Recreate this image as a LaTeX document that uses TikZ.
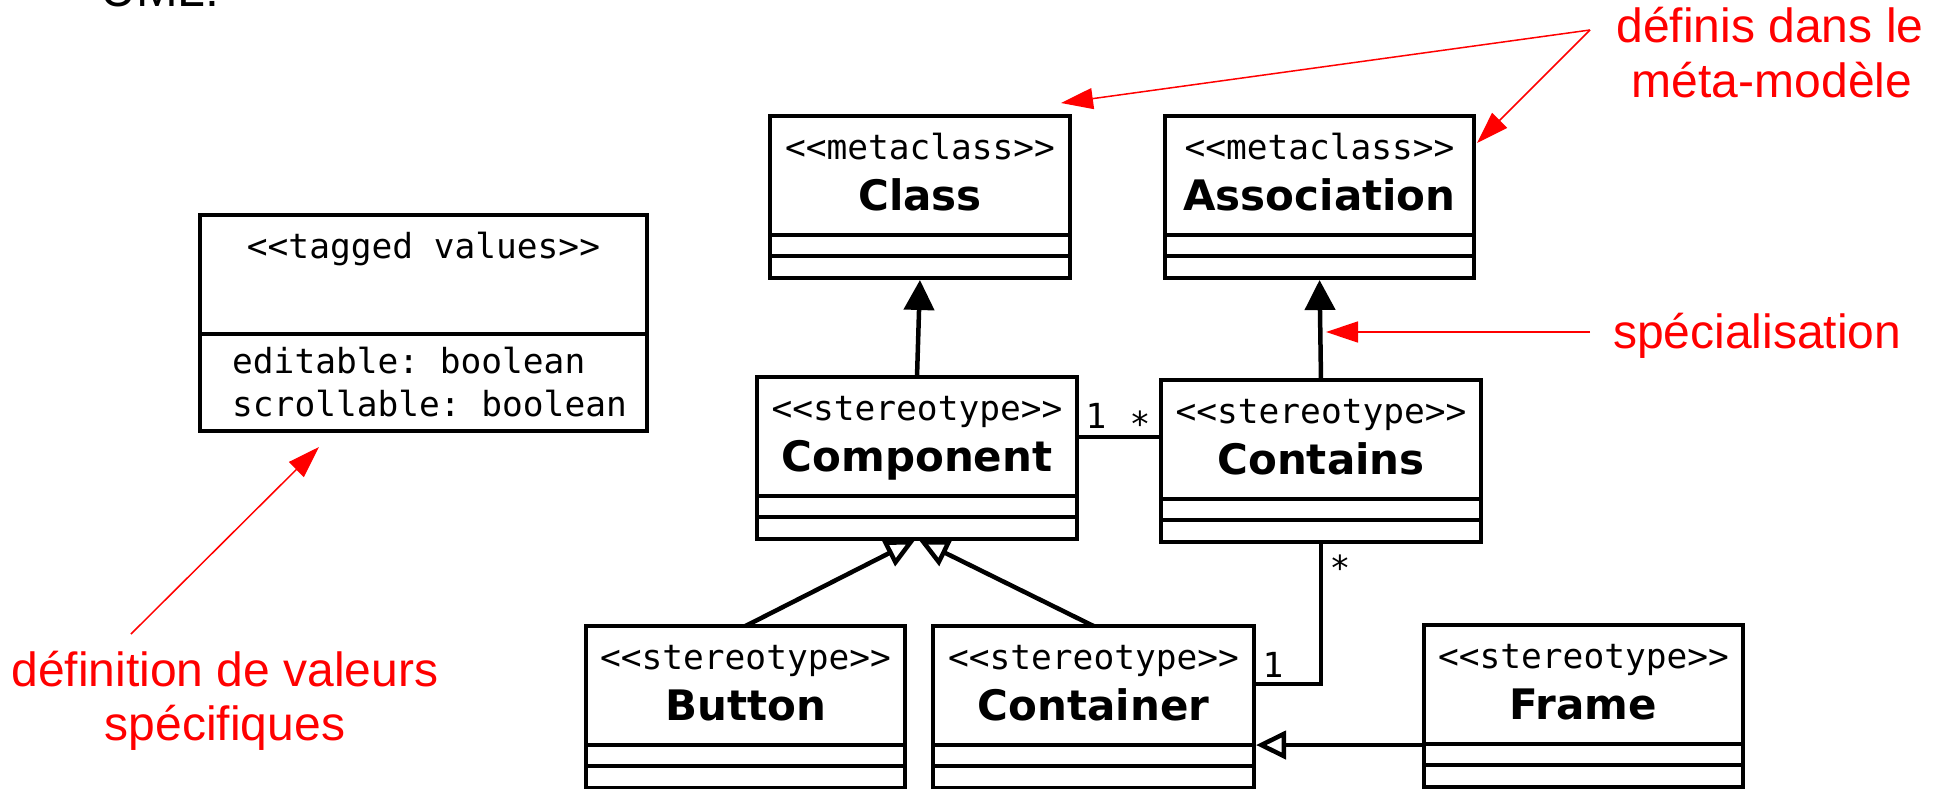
\documentclass[tikz,border=0pt]{standalone}
\usepackage{fontspec}
\usetikzlibrary{arrows.meta,calc}
\newfontfamily\monofam{DejaVu Sans Mono}
\newfontfamily\namefam{DejaVu Sans}
\newfontfamily\notefam{Liberation Sans}
\newcommand\monosize{\monofam\fontsize{34.5}{41}\selectfont\frenchspacing}
\newcommand\namesize{\namefam\bfseries\fontsize{42}{50}\selectfont}
\newcommand\notesize{\notefam\fontsize{48}{55}\selectfont}

\tikzset{
  umlbox/.style={draw, line width=4.7pt, inner sep=0pt, outer sep=0pt,
    anchor=north west, minimum height=162pt, fill=white},
  compart/.style={line width=4.7pt},
  stereo/.style={font=\monosize, inner sep=0pt, anchor=base},
  classname/.style={font=\namesize, inner sep=0pt, anchor=base},
  mult/.style={font=\monosize, inner sep=0pt, anchor=base},
  attr/.style={font=\monosize, inner sep=0pt, anchor=base west},
  link/.style={line width=4.5pt},
  extends/.style={link, shorten >=2pt, -{Triangle[length=30pt,width=30pt]}},
  realizes/.style={link, shorten >=2pt, -{Triangle[open,length=30pt,width=28pt]}},
  callout/.style={red, line width=1.5pt, -{Triangle[length=32pt,width=21pt]}},
  calltext/.style={text=red, font=\notesize, inner sep=0pt},
}

% class box with three compartments: name, attributes, operations
\newcommand\umlclass[6]{%
  \node[umlbox, minimum width=#4pt] (#1) at (#2,#3) {};
  \draw[compart] ([yshift=-119pt]#1.north west) -- ([yshift=-119pt]#1.north east);
  \draw[compart] ([yshift=-140pt]#1.north west) -- ([yshift=-140pt]#1.north east);
  \node[stereo] (#1-st) at ([yshift=-43pt]#1.north) {#5};
  \node[classname] (#1-nm) at ([yshift=-94pt]#1.north) {#6};
}

\begin{document}
\begin{tikzpicture}[x=1pt,y=-1pt]
\useasboundingbox (0,0) rectangle (1950,789);
\fill[white] (0,0) rectangle (1950,789);

\node[anchor=base west, font=\notefam\fontsize{50}{60}\selectfont, inner sep=0pt] (uml) at (100,7) {UML:};

% tagged values
\node[umlbox, minimum width=447pt, minimum height=216pt] (tv) at (200,215) {};
\draw[compart] ([yshift=-119pt]tv.north west) -- ([yshift=-119pt]tv.north east);
\node[stereo] (tv-st) at ([yshift=-43pt]tv.north) {<<tagged values>>};
\node[attr] (tv-a1) at (232,373) {editable: boolean};
\node[attr] (tv-a2) at (232,416) {scrollable: boolean};

% metaclasses
\umlclass{cls}{770}{116}{300}{<<metaclass>>}{Class}
\umlclass{assoc}{1165}{116}{309}{<<metaclass>>}{Association}

% stereotypes
\umlclass{comp}{757}{377}{320}{<<stereotype>>}{Component}
\umlclass{cont}{1161}{380}{320}{<<stereotype>>}{Contains}
\umlclass{btn}{586}{626}{319}{<<stereotype>>}{Button}
\umlclass{cnt}{933}{626}{321}{<<stereotype>>}{Container}
\umlclass{frm}{1424}{625}{319}{<<stereotype>>}{Frame}

% extensions of the metaclasses
\draw[extends] (comp.north) -- (cls.south);
\draw[extends] (cont.north) -- (assoc.south);

% association Component -- Contains
\draw[link] ([yshift=-60pt]comp.north east) -- ([yshift=-60pt]comp.north east -| cont.west);
\node[mult] (m1) at (1096,428) {1};
\node[mult] (m2) at (1140,436) {*};

% association Contains -- Container
\draw[link] (cont.south) |- ([yshift=-58pt]cnt.north east);
\node[mult] (m3) at (1340,580) {*};
\node[mult] (m4) at (1273,677) {1};

% generalizations
\draw[realizes] (btn.north) -- (comp.south);
\draw[realizes] (cnt.north) -- (comp.south);
\draw[realizes] ([yshift=-120pt]frm.north west) -- ([yshift=-120pt]frm.north west -| cnt.east);

% annotations
\node[calltext, anchor=base] (meta1) at (1770,43) {définis dans le};
\node[calltext, anchor=base] (meta2) at (1772,98) {méta-modèle};
\coordinate (metasrc) at (1590,30);
\draw[callout] (metasrc) -- ([shift={(-9,-13)}]cls.north east);
\draw[callout] (metasrc) -- ([shift={(3,27)}]assoc.north east);

\node[calltext, anchor=base west] (spec) at (1613,348) {spécialisation};
\coordinate (specsrc) at (1590,332);
\draw[callout] (specsrc) -- ($(specsrc -| cont.north)+(5,0)$);

\node[calltext, anchor=base] (def1) at (225,686) {définition de valeurs};
\node[calltext, anchor=base] (def2) at (225,740) {spécifiques};
\coordinate (tvsrc) at (131,634);
\draw[callout] (tvsrc) -- ([shift={(119,16)}]tv.south west);
\end{tikzpicture}
\end{document}
